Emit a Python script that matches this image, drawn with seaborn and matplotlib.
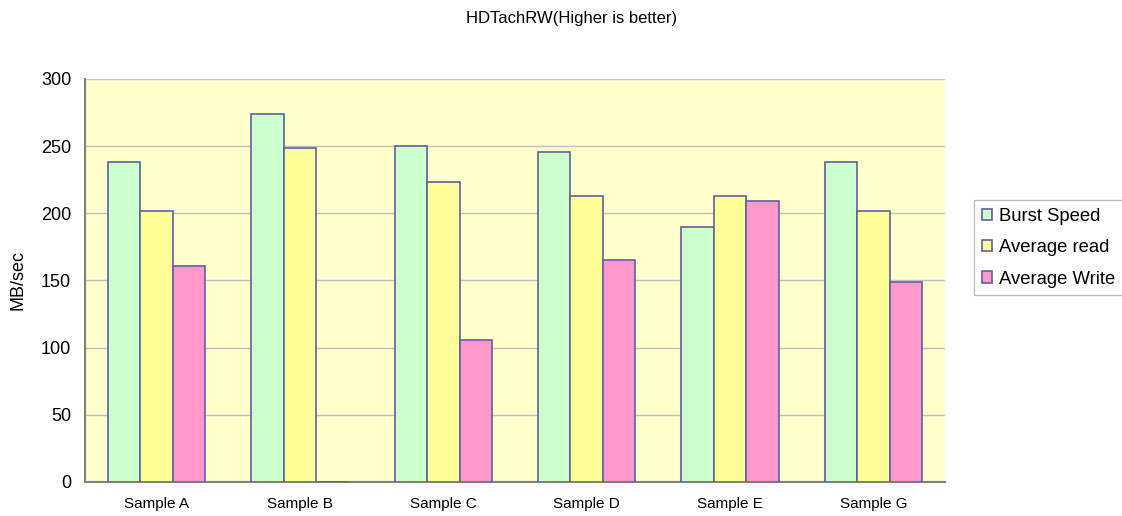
import pandas as pd
import numpy as np
import matplotlib.pyplot as plt
import seaborn as sns

samples = ['Sample A', 'Sample B', 'Sample C', 'Sample D', 'Sample E', 'Sample G']
burst_speed = [238, 274, 250, 246, 190, 238]
average_read = [202, 249, 223, 213, 213, 202]
average_write = [161, 0, 106, 165, 209, 149]
series_names = ['Burst Speed', 'Average read', 'Average Write']
colors = ['#CCFFCC', '#FFFF99', '#FF99CC']

df = pd.DataFrame({
    'Sample': samples * 3,
    'Series': np.repeat(series_names, len(samples)),
    'MB/sec': burst_speed + average_read + average_write,
})

sns.set_style('white')
plt.rcParams['font.family'] = ['Liberation Sans', 'DejaVu Sans']
plt.rcParams['text.color'] = 'black'
plt.rcParams['xtick.color'] = 'black'
plt.rcParams['ytick.color'] = 'black'
plt.rcParams['axes.labelcolor'] = 'black'

fig = plt.figure(figsize=(11.22, 5.16), dpi=100)
ax = fig.add_axes([85 / 1122, 34 / 516, 860 / 1122, 403 / 516])
ax.set_facecolor('#FFFFCC')

sns.barplot(data=df, x='Sample', y='MB/sec', hue='Series',
            palette=colors, saturation=1, width=0.68, gap=0,
            edgecolor='#6060a0', linewidth=1.2, ax=ax, zorder=3)

ax.set_ylim(0, 300)
ax.set_yticks(range(0, 301, 50))
ax.yaxis.grid(True, color='#c0c0c0', linewidth=1, zorder=0)
ax.set_axisbelow(True)
ax.set_xlim(-0.5, len(samples) - 0.5)

for side in ['top', 'right']:
    ax.spines[side].set_visible(False)
for side in ['left', 'bottom']:
    ax.spines[side].set_color('#808080')
    ax.spines[side].set_linewidth(1.5)

ax.tick_params(axis='y', length=5, color='#808080', labelsize=13, direction='out', pad=5)
ax.tick_params(axis='x', length=0, labelsize=11, pad=11)
ax.set_xticks(np.arange(len(samples) - 1) + 0.5, minor=True)
ax.tick_params(axis='x', which='minor', length=4, color='#808080', direction='in')

ax.set_xlabel('')
ax.set_ylabel('MB/sec', fontsize=13)
ax.yaxis.set_label_coords(-0.0686, 0.5)

fig.text(572 / 1122, 1 - 19 / 516, 'HDTachRW(Higher is better)', fontsize=12,
         ha='center', va='center')

handles, labels = ax.get_legend_handles_labels()
ax.legend(handles, labels, loc='upper left', bbox_to_anchor=(974 / 1122, 1 - 200 / 516),
          bbox_transform=fig.transFigure, frameon=True, fancybox=False,
          edgecolor='#b0b0b0', fontsize=13.3, handlelength=0.55, handleheight=0.55,
          handletextpad=0.38, labelspacing=0.78, borderpad=0.42, borderaxespad=0)

fig.savefig('out.png', dpi=100)
